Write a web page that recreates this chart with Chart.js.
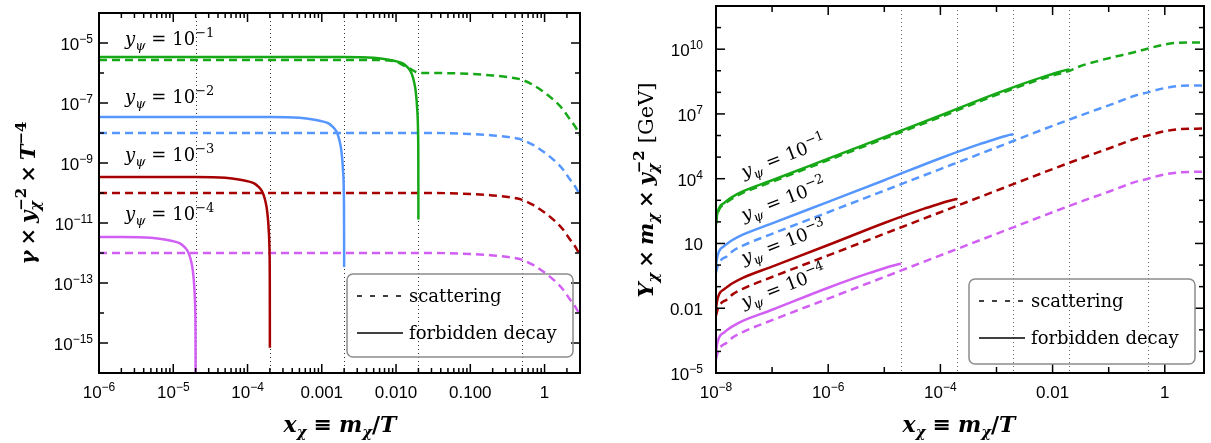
<!DOCTYPE html>
<html>
<head>
<meta charset="utf-8">
<script src="https://cdn.jsdelivr.net/npm/chart.js@4.4.1/dist/chart.umd.min.js"></script>
<style>
  html, body { margin: 0; padding: 0; background: #fff; }
  #wrap { position: relative; width: 1211px; height: 443px; overflow: hidden; }
  canvas { position: absolute; top: 0; }
  #left { left: 0; }
  #right { left: 605px; }
</style>
</head>
<body>
<div id="wrap">
  <canvas id="left" width="605" height="443"></canvas>
  <canvas id="right" width="606" height="443"></canvas>
</div>
<script>
// colours of the four y_psi values
const GREEN = "#17a817";
const BLUE = "#5596ff";
const RED = "#a60000";
const PURPLE = "#d25ff3";

// vertical dotted lines (x where each decay shuts off, and x = 0.5)
const cutX = [2e-5, 2e-4, 2e-3, 2e-2, 0.5];

// ---- left panel: gamma * y^-2 * T^-4 ----
const lSolidGreenX = [1e-6, 1e-4, 2e-3, 5e-3, 8e-3, 1.05e-2, 1.23e-2, 1.41e-2, 1.55e-2, 1.65e-2, 1.75e-2, 1.83e-2, 1.93e-2, 1.98e-2, 1.995e-2, 2e-2];
const lSolidGreenY = [3.4e-6, 3.4e-6, 3.4e-6, 3.2e-6, 2.75e-6, 2.4e-6, 2.1e-6, 1.6e-6, 1.2e-6, 8.5e-7, 5e-7, 2.7e-7, 5.9e-8, 1e-8, 1e-9, 1.3e-11];
const lSolidBlueX = [1e-6, 1e-5, 2e-4, 5e-4, 8e-4, 1.05e-3, 1.23e-3, 1.41e-3, 1.55e-3, 1.65e-3, 1.75e-3, 1.83e-3, 1.93e-3, 1.98e-3, 1.995e-3, 2e-3];
const lSolidBlueY = [3.4e-8, 3.4e-8, 3.4e-8, 3.2e-8, 2.75e-8, 2.4e-8, 2.1e-8, 1.6e-8, 1.2e-8, 8.5e-9, 5e-9, 2.7e-9, 5.9e-10, 1e-10, 1e-11, 3.4e-13];
const lSolidRedX = [1e-6, 2e-5, 5e-5, 8e-5, 1.05e-4, 1.23e-4, 1.41e-4, 1.55e-4, 1.65e-4, 1.75e-4, 1.83e-4, 1.93e-4, 1.98e-4, 1.995e-4, 2e-4];
const lSolidRedY = [3.4e-10, 3.4e-10, 3.2e-10, 2.75e-10, 2.4e-10, 2.1e-10, 1.6e-10, 1.2e-10, 8.5e-11, 5e-11, 2.7e-11, 5.9e-12, 1e-12, 1e-13, 7e-16];
const lSolidPurpleX = [1e-6, 2e-6, 5e-6, 8e-6, 1.05e-5, 1.23e-5, 1.41e-5, 1.55e-5, 1.65e-5, 1.75e-5, 1.83e-5, 1.93e-5, 1.98e-5, 1.995e-5, 2e-5];
const lSolidPurpleY = [3.4e-12, 3.4e-12, 3.2e-12, 2.75e-12, 2.4e-12, 2.1e-12, 1.6e-12, 1.2e-12, 8.5e-13, 5e-13, 2.7e-13, 5.9e-14, 1e-14, 1e-15, 1e-17];

const lScatGreenX = [1e-6, 5e-3, 1e-2, 1.2e-2, 1.45e-2, 1.65e-2, 1.9e-2, 2.1e-2, 3e-2, 0.1, 0.2, 0.35, 0.5, 0.7, 1, 1.3, 1.75, 2.2, 2.6, 3];
const lScatGreenY = [2.7e-6, 2.7e-6, 2.4e-6, 1.9e-6, 1.5e-6, 1.26e-6, 1.05e-6, 1e-6, 1e-6, 9.3e-7, 8.3e-7, 7.1e-7, 5.9e-7, 4e-7, 2.24e-7, 1.32e-7, 6.3e-8, 2.8e-8, 1.6e-8, 8.3e-9];
const lScatX = [1e-6, 3e-2, 0.1, 0.2, 0.35, 0.5, 0.7, 1, 1.3, 1.75, 2.2, 2.6, 3];
const lScatBlueY = [1e-8, 1e-8, 9.3e-9, 8.3e-9, 7.1e-9, 5.9e-9, 4e-9, 2.24e-9, 1.32e-9, 6.3e-10, 2.8e-10, 1.6e-10, 8.3e-11];
const lScatRedY = [1e-10, 1e-10, 9.3e-11, 8.3e-11, 7.1e-11, 5.9e-11, 4e-11, 2.24e-11, 1.32e-11, 6.3e-12, 2.8e-12, 1.6e-12, 8.3e-13];
const lScatPurpleY = [1e-12, 1e-12, 9.3e-13, 8.3e-13, 7.1e-13, 5.9e-13, 4e-13, 2.24e-13, 1.32e-13, 6.3e-14, 2.8e-14, 1.6e-14, 8.3e-15];

// ---- right panel: Y * m * y^-2 [GeV] ----
const rSolidGreenX = [1e-8, 1.04e-8, 1.1e-8, 1.2e-8, 1.35e-8, 1.6e-8, 2e-8, 3e-8, 1e-7, 1e-6, 1e-5, 1e-4, 1e-3, 5e-3, 1e-2, 1.4e-2, 1.7e-2, 2e-2];
const rSolidGreenY = [89, 200, 355, 560, 710, 1000, 1480, 2570, 8500, 8.5e4, 8.5e5, 8.5e6, 8.9e7, 4.0e8, 7.1e8, 9.3e8, 1.07e9, 1.15e9];
const rSolidBlueX = [1e-8, 1.04e-8, 1.1e-8, 1.2e-8, 1.35e-8, 1.6e-8, 2e-8, 3e-8, 1e-7, 1e-6, 1e-5, 1e-4, 5e-4, 1e-3, 1.4e-3, 1.7e-3, 2e-3];
const rSolidBlueY = [0.89, 2.0, 3.55, 5.6, 7.1, 10, 14.8, 25.7, 85, 850, 8500, 8.9e4, 4.0e5, 7.1e5, 9.3e5, 1.07e6, 1.15e6];
const rSolidRedX = [1e-8, 1.04e-8, 1.1e-8, 1.2e-8, 1.35e-8, 1.6e-8, 2e-8, 3e-8, 1e-7, 1e-6, 1e-5, 5e-5, 1e-4, 1.4e-4, 1.7e-4, 2e-4];
const rSolidRedY = [8.9e-3, 0.02, 0.0355, 0.056, 0.071, 0.1, 0.148, 0.257, 0.85, 8.5, 89, 400, 710, 930, 1070, 1150];
const rSolidPurpleX = [1e-8, 1.04e-8, 1.1e-8, 1.2e-8, 1.35e-8, 1.6e-8, 2e-8, 3e-8, 1e-7, 1e-6, 5e-6, 1e-5, 1.4e-5, 1.7e-5, 2e-5];
const rSolidPurpleY = [8.9e-5, 2e-4, 3.55e-4, 5.6e-4, 7.1e-4, 1e-3, 1.48e-3, 2.57e-3, 8.5e-3, 0.089, 0.4, 0.71, 0.93, 1.07, 1.15];

const rScatGreenX = [1e-8, 1.04e-8, 1.1e-8, 1.2e-8, 1.35e-8, 1.6e-8, 2e-8, 3e-8, 1e-7, 1e-6, 1e-5, 1e-4, 1e-3, 5e-3, 1e-2, 2e-2, 3e-2, 6.8e-2, 0.13, 0.23, 0.49, 1.05, 1.6, 2.7, 5];
const rScatGreenY = [75, 170, 300, 480, 600, 850, 1260, 2200, 7200, 7.2e4, 7.2e5, 7.2e6, 7.6e7, 3.4e8, 6.0e8, 1.0e9, 1.58e9, 2.95e9, 4.5e9, 6.3e9, 1.05e10, 1.7e10, 1.95e10, 2.04e10, 2.04e10];
const rScatX = [1e-8, 1.1e-8, 1.25e-8, 1.55e-8, 2e-8, 3e-8, 1e-7, 1e-6, 1e-5, 1e-4, 1e-3, 1e-2, 0.04, 0.1, 0.3, 0.5, 1, 2, 5];
const rScatBlueY = [0.45, 1.12, 1.78, 2.5, 4.5, 7.9, 28, 280, 2800, 2.8e4, 2.8e5, 2.8e6, 1.07e7, 2.5e7, 7.1e7, 1e8, 1.58e8, 2e8, 2.1e8];
const rScatRedY = [4.5e-3, 0.0112, 0.0178, 0.025, 0.045, 0.079, 0.28, 2.8, 28, 280, 2800, 2.8e4, 1.07e5, 2.5e5, 7.1e5, 1e6, 1.58e6, 2e6, 2.1e6];
const rScatPurpleY = [4.5e-5, 1.12e-4, 1.78e-4, 2.5e-4, 4.5e-4, 7.9e-4, 2.8e-3, 0.028, 0.28, 2.8, 28, 280, 1070, 2500, 7100, 1e4, 1.58e4, 2e4, 2.1e4];

// tick labels
const lXTickVals = [1e-6, 1e-5, 1e-4, 1e-3, 1e-2, 1e-1, 1];
const lXTickText = ["10^-6", "10^-5", "10^-4", "0.001", "0.010", "0.100", "1"];
const lYTickVals = [1e-5, 1e-7, 1e-9, 1e-11, 1e-13, 1e-15];
const lYTickText = ["10^-5", "10^-7", "10^-9", "10^-11", "10^-13", "10^-15"];
const rXTickVals = [1e-8, 1e-6, 1e-4, 1e-2, 1];
const rXTickText = ["10^-8", "10^-6", "10^-4", "0.01", "1"];
const rYTickVals = [1e-5, 1e-2, 10, 1e4, 1e7, 1e10];
const rYTickText = ["10^-5", "0.01", "10", "10^4", "10^7", "10^10"];

const psiText = ["10^-1", "10^-2", "10^-3", "10^-4"];
const legendText = ["scattering", "forbidden decay"];

const SERIF = '"DejaVu Serif"';
const SANS = '"Liberation Sans", Arial';

// --- small rich-text helper (sub/superscripts) ---
function partWidth(ctx, p) {
  if (p.gap) return p.gap;
  if (p.stack) return Math.max(...p.stack.map(q => partWidth(ctx, q)));
  ctx.font = p.f;
  return ctx.measureText(p.t).width;
}
function drawParts(ctx, parts, x, y, align) {
  const w = parts.reduce((s, p) => s + partWidth(ctx, p), 0);
  let cx = align === "center" ? x - w / 2 : align === "right" ? x - w : x;
  ctx.textAlign = "left";
  ctx.textBaseline = "alphabetic";
  for (const p of parts) {
    const list = p.stack ? p.stack : p.gap ? [] : [p];
    list.forEach(q => { ctx.font = q.f; ctx.fillText(q.t, cx, y + (q.dy || 0)); });
    cx += partWidth(ctx, p);
  }
}
function tickParts(s) {
  if (!s.includes("^")) return [{ t: s, f: `17px ${SANS}` }];
  const [b, e] = s.split("^");
  return [{ t: b, f: `17px ${SANS}` }, { t: e.replace("-", "−"), f: `12px ${SANS}`, dy: -7 }];
}
function psiParts(s, size) {
  const [b, e] = s.split("^");
  const ss = Math.round(size * 0.7);
  return [
    { t: "y", f: `italic ${size}px ${SERIF}` },
    { t: "ψ", f: `italic ${ss}px ${SERIF}`, dy: Math.round(size * 0.28) },
    { gap: size * 0.33 },
    { t: "=", f: `${size}px ${SERIF}` },
    { gap: size * 0.33 },
    { t: b, f: `${size}px ${SERIF}` },
    { t: e.replace("-", "−"), f: `${ss}px ${SERIF}`, dy: -Math.round(size * 0.45) }
  ];
}
const BI = s => `bold italic ${s}px ${SERIF}`;
const B = s => `bold ${s}px ${SERIF}`;
const xTitle = [
  { t: "x", f: BI(22) }, { t: "χ", f: BI(15), dy: 5 }, { gap: 7 }, { t: "≡", f: B(22) }, { gap: 7 },
  { t: "m", f: BI(22) }, { t: "χ", f: BI(15), dy: 5 }, { t: "/", f: B(22) }, { t: "T", f: BI(22) }
];
const leftYTitle = [
  { t: "γ", f: BI(21) }, { gap: 5 }, { t: "×", f: B(21) }, { gap: 5 },
  { t: "y", f: BI(21) }, { stack: [{ t: "χ", f: BI(15), dy: 5 }, { t: "−2", f: B(15), dy: -9 }] }, { gap: 5 },
  { t: "×", f: B(21) }, { gap: 5 }, { t: "T", f: BI(21) }, { t: "−4", f: B(15), dy: -9 }
];
const rightYTitle = [
  { t: "Y", f: BI(21) }, { t: "χ", f: BI(15), dy: 5 }, { gap: 5 }, { t: "×", f: B(21) }, { gap: 5 },
  { t: "m", f: BI(21) }, { t: "χ", f: BI(15), dy: 5 }, { gap: 5 }, { t: "×", f: B(21) }, { gap: 5 },
  { t: "y", f: BI(21) }, { stack: [{ t: "χ", f: BI(15), dy: 5 }, { t: "−2", f: B(15), dy: -9 }] }, { gap: 7 },
  { t: "[GeV]", f: `21px ${SERIF}` }
];

const isTick = (v, list) => list.some(t => Math.abs(Math.log10(v) - Math.log10(t)) < 1e-6);

// draws frame, inward ticks, labels, titles, legend
const decor = {
  id: "decor",
  beforeDatasetsDraw(chart, args, o) {
    const { ctx, chartArea: a, scales: { x } } = chart;
    ctx.save();
    ctx.strokeStyle = o.dotColor;
    ctx.lineWidth = 1;
    ctx.setLineDash([1, 3]);
    cutX.forEach(v => {
      const px = Math.round(x.getPixelForValue(v)) + 0.5;
      ctx.beginPath(); ctx.moveTo(px, a.top); ctx.lineTo(px, a.bottom); ctx.stroke();
    });
    ctx.restore();
  },
  afterDraw(chart, args, o) {
    const { ctx, chartArea: a, scales: { x, y } } = chart;
    ctx.save();
    ctx.strokeStyle = "#000";
    ctx.fillStyle = "#000";

    // inward ticks on all four sides
    ctx.lineWidth = 1.5;
    const seg = (x1, y1, x2, y2) => { ctx.beginPath(); ctx.moveTo(x1, y1); ctx.lineTo(x2, y2); ctx.stroke(); };
    const xTick = (v, len) => { const p = x.getPixelForValue(v); seg(p, a.bottom, p, a.bottom - len); seg(p, a.top, p, a.top + len); };
    const yTick = (v, len) => { const p = y.getPixelForValue(v); seg(a.left, p, a.left + len, p); seg(a.right, p, a.right - len, p); };
    for (let e = Math.round(Math.log10(x.min)); 10 ** e <= x.max * 1.001; e++) {
      xTick(10 ** e, isTick(10 ** e, o.xVals) ? 9 : 6);
      if (o.xSub) for (let m = 2; m <= 9; m++) if (m * 10 ** e < x.max) xTick(m * 10 ** e, 5);
    }
    for (let e = Math.round(Math.log10(y.min)); 10 ** e <= y.max * 1.001; e++) {
      yTick(10 ** e, isTick(10 ** e, o.yVals) ? 9 : 5);
    }

    // frame
    ctx.lineWidth = 2;
    ctx.strokeRect(a.left, a.top, a.right - a.left, a.bottom - a.top);

    // tick labels
    o.xVals.forEach((v, i) => drawParts(ctx, tickParts(o.xText[i]), x.getPixelForValue(v), a.bottom + 25, "center"));
    o.yVals.forEach((v, i) => drawParts(ctx, tickParts(o.yText[i]), a.left - o.yGap, y.getPixelForValue(v) + 7, "right"));

    // axis titles
    drawParts(ctx, xTitle, o.xTitle[0], o.xTitle[1], "center");
    ctx.save();
    ctx.translate(o.yTitle[0], o.yTitle[1]);
    ctx.rotate(-Math.PI / 2);
    drawParts(ctx, o.yTitleParts, 0, 0, "center");
    ctx.restore();

    // y_psi labels
    psiText.forEach((s, i) => {
      const [px, py] = o.psiPos[i];
      ctx.save();
      ctx.translate(px, py);
      if (o.psiAngle) {
        const ang = Math.atan2(y.getPixelForValue(1e3) - y.getPixelForValue(1), x.getPixelForValue(1e-3) - x.getPixelForValue(1e-6));
        ctx.rotate(ang);
      }
      drawParts(ctx, psiParts(s, 18), 0, 0, "left");
      ctx.restore();
    });

    // legend box
    const L = o.legend;
    ctx.strokeStyle = "#8c8c8c";
    ctx.lineWidth = 1.5;
    ctx.beginPath();
    ctx.roundRect(L[0], L[1], L[2], L[3], 6);
    ctx.stroke();
    ctx.strokeStyle = "#000";
    ctx.lineWidth = 1.5;
    ctx.setLineDash([5, 8]);
    seg(L[0] + 10, L[1] + 22, L[0] + 56, L[1] + 22);
    ctx.setLineDash([]);
    seg(L[0] + 10, L[1] + 59, L[0] + 56, L[1] + 59);
    ctx.font = `18px ${SERIF}`;
    ctx.textAlign = "left";
    ctx.fillText(legendText[0], L[0] + 62, L[1] + 28);
    ctx.fillText(legendText[1], L[0] + 62, L[1] + 65);
    ctx.restore();
  }
};

const pts = (xs, ys) => xs.map((v, i) => ({ x: v, y: ys[i] }));
const line = (xs, ys, color, dashed) => ({
  data: pts(xs, ys),
  borderColor: color,
  borderWidth: 2.5,
  borderDash: dashed ? [8, 5] : [],
  pointRadius: 0,
  fill: false,
  cubicInterpolationMode: "monotone"
});

function makeChart(id, datasets, pad, xr, yr, decorOpts) {
  return new Chart(document.getElementById(id), {
    type: "line",
    data: { datasets },
    options: {
      responsive: false,
      animation: false,
      devicePixelRatio: 1,
      layout: { padding: pad },
      plugins: { legend: { display: false }, tooltip: { enabled: false }, decor: decorOpts },
      scales: {
        x: { type: "logarithmic", min: xr[0], max: xr[1], display: false },
        y: { type: "logarithmic", min: yr[0], max: yr[1], display: false }
      }
    },
    plugins: [decor]
  });
}

makeChart("left", [
  line(lSolidGreenX, lSolidGreenY, GREEN, false),
  line(lSolidBlueX, lSolidBlueY, BLUE, false),
  line(lSolidRedX, lSolidRedY, RED, false),
  line(lSolidPurpleX, lSolidPurpleY, PURPLE, false),
  line(lScatGreenX, lScatGreenY, GREEN, true),
  line(lScatX, lScatBlueY, BLUE, true),
  line(lScatX, lScatRedY, RED, true),
  line(lScatX, lScatPurpleY, PURPLE, true)
], { left: 99, top: 13, right: 25, bottom: 70 }, [1e-6, 3], [1e-16, 1e-4], {
  dotColor: "#333",
  xVals: lXTickVals, xText: lXTickText, yVals: lYTickVals, yText: lYTickText,
  xSub: true, yGap: 6,
  xTitle: [340, 432], yTitle: [35, 193], yTitleParts: leftYTitle,
  psiPos: [[125, 45], [125, 103], [125, 161], [125, 220]], psiAngle: false,
  legend: [347, 274, 226, 83]
});

makeChart("right", [
  line(rSolidGreenX, rSolidGreenY, GREEN, false),
  line(rSolidBlueX, rSolidBlueY, BLUE, false),
  line(rSolidRedX, rSolidRedY, RED, false),
  line(rSolidPurpleX, rSolidPurpleY, PURPLE, false),
  line(rScatGreenX, rScatGreenY, GREEN, true),
  line(rScatX, rScatBlueY, BLUE, true),
  line(rScatX, rScatRedY, RED, true),
  line(rScatX, rScatPurpleY, PURPLE, true)
], { left: 111, top: 6, right: 7, bottom: 70 }, [1e-8, 5], [1e-5, 1e12], {
  dotColor: "#666",
  xVals: rXTickVals, xText: rXTickText, yVals: rYTickVals, yText: rYTickText,
  xSub: false, yGap: 13,
  xTitle: [354, 432], yTitle: [48, 190], yTitleParts: rightYTitle,
  psiPos: [[139, 178], [139, 221], [139, 264], [139, 308]], psiAngle: true,
  legend: [364, 279, 226, 85]
});
</script>
</body>
</html>
